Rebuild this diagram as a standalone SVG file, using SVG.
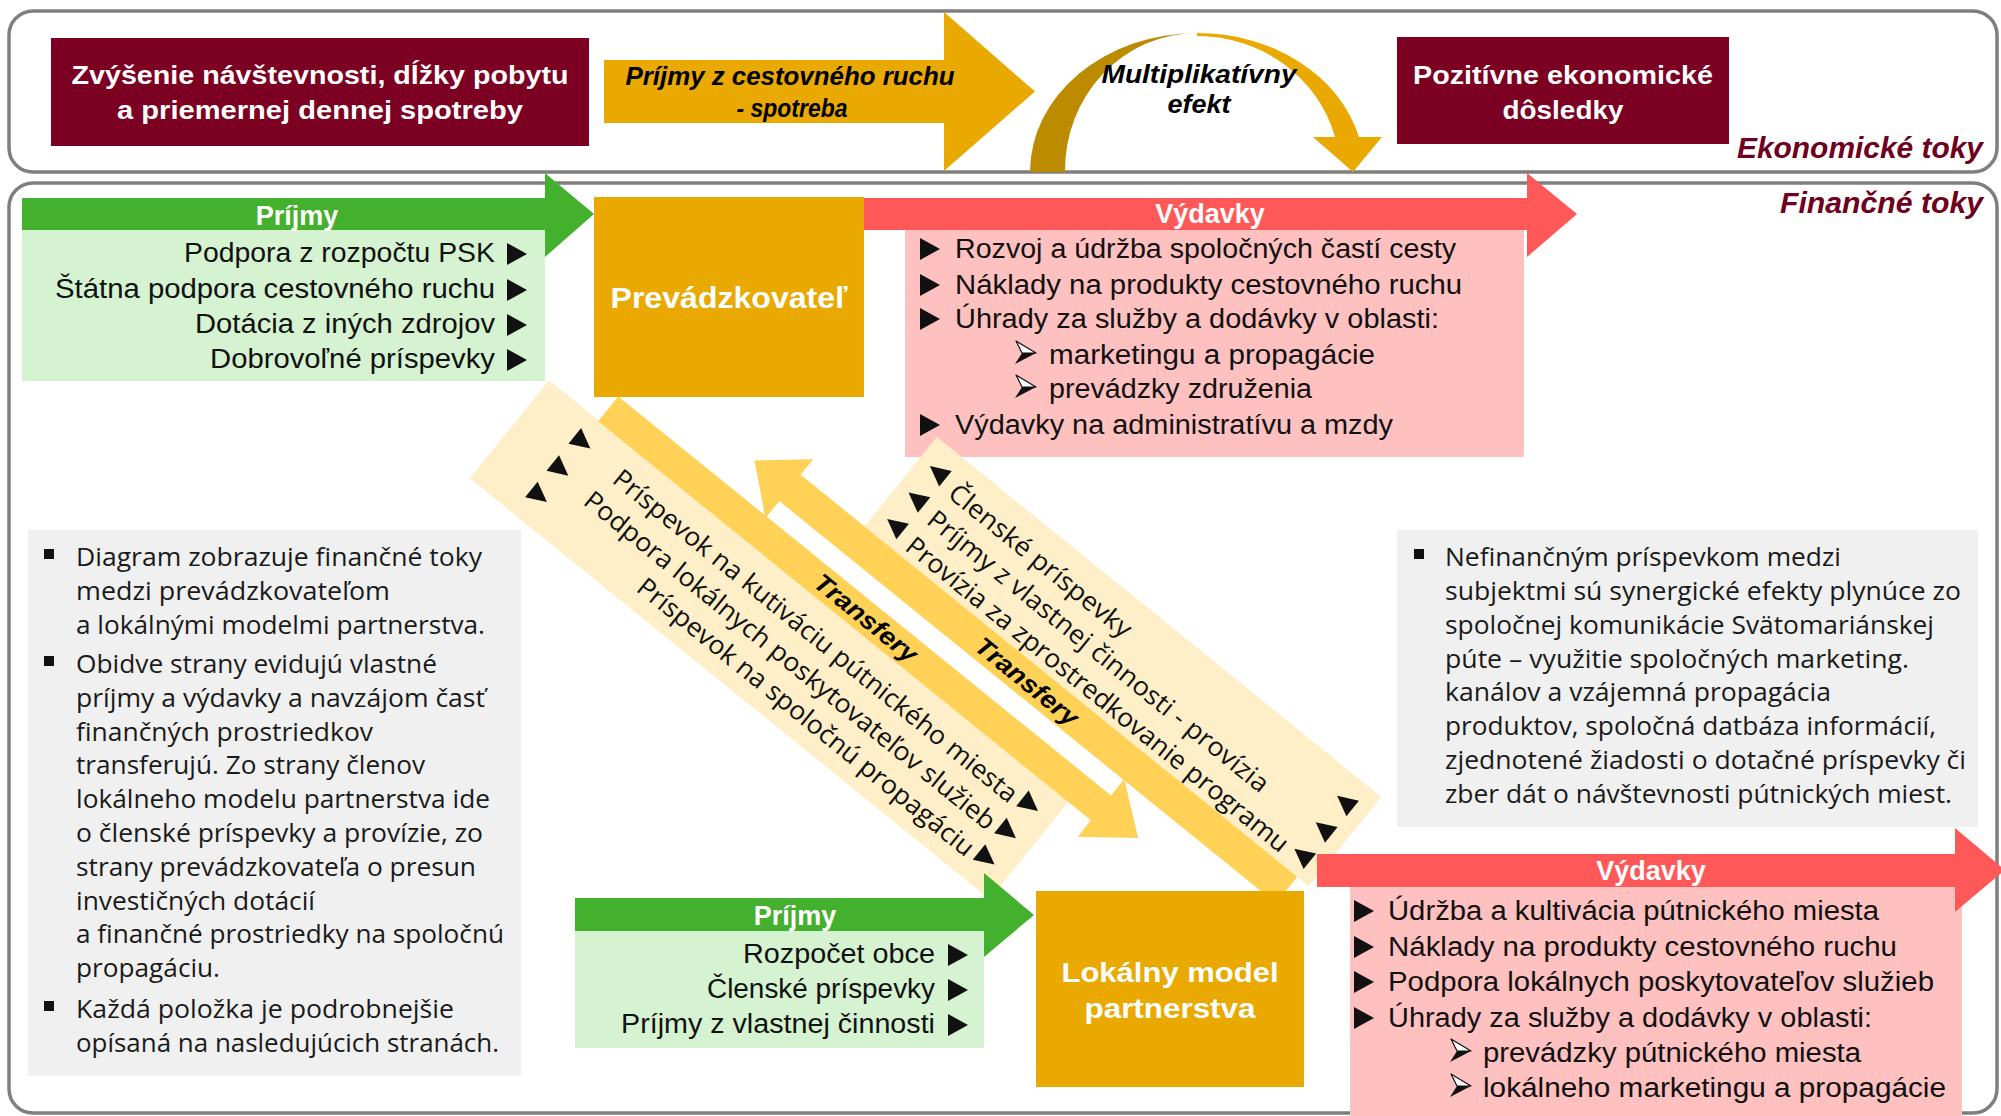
<svg xmlns="http://www.w3.org/2000/svg" xmlns:xlink="http://www.w3.org/1999/xlink" width="2001" height="1116" viewBox="0 0 2001 1116">
<style>
.panel{fill:#fff;stroke:#7f7f7f;stroke-width:3.5}
.maroon{fill:#7B0022}
.gold{fill:#E9A900}
.green{fill:#43B02E}
.lgreen{fill:#D5F3D1}
.red{fill:#FF5858}
.pink{fill:#FFC0C0}
.gray{fill:#F0F0F0}
.lband{fill:#FFEFC8}
.dband{fill:#FFD257}
.wb{font-family:'Liberation Sans',Arial,sans-serif;font-weight:bold;fill:#fff}
.bi{font-family:'Liberation Sans',Arial,sans-serif;font-weight:bold;font-style:italic;fill:#000}
.ttl{font-family:'Liberation Sans',Arial,sans-serif;font-weight:bold;font-style:italic;fill:#6E0020;font-size:30px}
.li{font-family:'Liberation Sans',Arial,sans-serif;font-size:27px;fill:#111}
.para{font-family:'Open Sans','Liberation Sans',sans-serif;font-size:25px;fill:#1a1a1a}
.rot{font-family:'Open Sans','Liberation Sans',sans-serif;font-size:26px;fill:#111}
</style>
<defs>
<polygon id="tri" points="-10,-11 10,0 -10,11" fill="#111"/>
<polygon id="triL" points="10,-10 -10,0 10,10" fill="#111"/>
<polygon id="triR" points="-10,-10 10,0 -10,10" fill="#111"/>
<g id="arr3d">
<polygon points="-10,-12 10,0 -4,0" fill="#fff" stroke="#111" stroke-width="1.2" stroke-linejoin="round"/>
<polygon points="-4,0 10,0 -11,11" fill="#111"/>
</g>
<rect id="bul" x="-5" y="-5" width="10" height="10" fill="#111"/>
</defs>

<!-- panels -->
<g id="panel-economic"><rect class="panel" x="9" y="11" width="1988" height="161" rx="24"/></g>
<g id="panel-financial"><rect class="panel" x="9" y="183" width="1988" height="930" rx="24"/></g>

<!-- top economic row -->
<g id="node-zvysenie">
<rect class="maroon" x="51" y="38" width="538" height="108"/>
<text class="wb" font-size="26" x="320" y="84" text-anchor="middle" textLength="497" lengthAdjust="spacingAndGlyphs">Zvýšenie návštevnosti, dĺžky pobytu</text>
<text class="wb" font-size="26" x="320" y="119" text-anchor="middle" textLength="406" lengthAdjust="spacingAndGlyphs">a priemernej dennej spotreby</text>
</g>
<g id="node-prijmy-cr">
<polygon class="gold" points="604,60 944,60 944,12 1035,91.5 944,171 944,123 604,123"/>
<text class="bi" font-size="25" x="790" y="85" text-anchor="middle" textLength="329" lengthAdjust="spacingAndGlyphs">Príjmy z cestovného ruchu</text>
<text class="bi" font-size="25" x="792" y="117" text-anchor="middle" textLength="111" lengthAdjust="spacingAndGlyphs">- spotreba</text>
</g>
<g id="node-multiplikativny">
<path fill="#BD8B00" d="M1030,172 A167,139 0 0 1 1197,33 A132,137 0 0 0 1065,172 Z"/>
<path class="gold" d="M1197,33 A167,139 0 0 1 1359,137 L1382,137 L1353,172 L1313,137 L1335,137 A143,136 0 0 0 1197,36 Z"/>
<text class="bi" font-size="25" x="1199" y="83" text-anchor="middle" textLength="195" lengthAdjust="spacingAndGlyphs">Multiplikatívny</text>
<text class="bi" font-size="25" x="1199" y="113" text-anchor="middle" textLength="63" lengthAdjust="spacingAndGlyphs">efekt</text>
</g>
<g id="node-pozitivne">
<rect class="maroon" x="1397" y="37" width="332" height="107"/>
<text class="wb" font-size="26" x="1563" y="84" text-anchor="middle" textLength="300" lengthAdjust="spacingAndGlyphs">Pozitívne ekonomické</text>
<text class="wb" font-size="26" x="1563" y="119" text-anchor="middle" textLength="121" lengthAdjust="spacingAndGlyphs">dôsledky</text>
</g>
<text class="ttl" x="1983" y="158" text-anchor="end" textLength="246" lengthAdjust="spacingAndGlyphs">Ekonomické toky</text>
<text class="ttl" x="1983" y="213" text-anchor="end" textLength="203" lengthAdjust="spacingAndGlyphs">Finančné toky</text>

<!-- gray notes -->
<g id="note-left">
<rect class="gray" x="28" y="530" width="493" height="546"/>
<use xlink:href="#bul" x="49" y="554"/>
<use xlink:href="#bul" x="49" y="661"/>
<use xlink:href="#bul" x="49" y="1006"/>
<text class="para" x="76" y="566" textLength="406" lengthAdjust="spacingAndGlyphs">Diagram zobrazuje finančné  toky</text>
<text class="para" x="76" y="600" textLength="314" lengthAdjust="spacingAndGlyphs">medzi prevádzkovateľom</text>
<text class="para" x="76" y="634" textLength="409" lengthAdjust="spacingAndGlyphs">a lokálnými modelmi partnerstva.</text>
<text class="para" x="76" y="673" textLength="361" lengthAdjust="spacingAndGlyphs">Obidve strany evidujú vlastné</text>
<text class="para" x="76" y="707" textLength="409" lengthAdjust="spacingAndGlyphs">príjmy a výdavky a navzájom časť</text>
<text class="para" x="76" y="741" textLength="297" lengthAdjust="spacingAndGlyphs">finančných prostriedkov</text>
<text class="para" x="76" y="774" textLength="349" lengthAdjust="spacingAndGlyphs">transferujú. Zo strany členov</text>
<text class="para" x="76" y="808" textLength="414" lengthAdjust="spacingAndGlyphs">lokálneho modelu partnerstva ide</text>
<text class="para" x="76" y="842" textLength="407" lengthAdjust="spacingAndGlyphs">o členské príspevky a provízie, zo</text>
<text class="para" x="76" y="876" textLength="400" lengthAdjust="spacingAndGlyphs">strany prevádzkovateľa o presun</text>
<text class="para" x="76" y="910" textLength="239" lengthAdjust="spacingAndGlyphs">investičných dotácií</text>
<text class="para" x="76" y="943" textLength="428" lengthAdjust="spacingAndGlyphs">a finančné prostriedky na spoločnú</text>
<text class="para" x="76" y="977" textLength="144" lengthAdjust="spacingAndGlyphs">propagáciu.</text>
<text class="para" x="76" y="1018" textLength="378" lengthAdjust="spacingAndGlyphs">Každá položka je podrobnejšie</text>
<text class="para" x="76" y="1052" textLength="423" lengthAdjust="spacingAndGlyphs">opísaná na nasledujúcich stranách.</text>
</g>
<g id="note-right">
<rect class="gray" x="1397" y="530" width="581" height="297"/>
<use xlink:href="#bul" x="1419" y="554"/>
<text class="para" x="1445" y="566" textLength="396" lengthAdjust="spacingAndGlyphs">Nefinančným príspevkom medzi</text>
<text class="para" x="1445" y="600" textLength="516" lengthAdjust="spacingAndGlyphs">subjektmi sú synergické efekty plynúce zo</text>
<text class="para" x="1445" y="634" textLength="489" lengthAdjust="spacingAndGlyphs">spoločnej komunikácie Svätomariánskej</text>
<text class="para" x="1445" y="668" textLength="464" lengthAdjust="spacingAndGlyphs">púte – využitie spoločných marketing.</text>
<text class="para" x="1445" y="701" textLength="386" lengthAdjust="spacingAndGlyphs">kanálov a vzájemná propagácia</text>
<text class="para" x="1445" y="735" textLength="491" lengthAdjust="spacingAndGlyphs">produktov, spoločná datbáza informácií,</text>
<text class="para" x="1445" y="769" textLength="521" lengthAdjust="spacingAndGlyphs">zjednotené žiadosti o dotačné príspevky či</text>
<text class="para" x="1445" y="803" textLength="507" lengthAdjust="spacingAndGlyphs">zber dát o návštevnosti pútnických miest.</text>
</g>

<!-- top financial: expenses of operator -->
<g id="node-vydavky-top">
<rect class="pink" x="905" y="230" width="619" height="227"/>
<polygon class="red" points="864,198 1527,198 1527,173 1577,214 1527,257 1527,230 864,230"/>
<text class="wb" font-size="27" x="1210" y="223" text-anchor="middle">Výdavky</text>
<use xlink:href="#tri" x="930" y="249"/>
<use xlink:href="#tri" x="930" y="285"/>
<use xlink:href="#tri" x="930" y="319"/>
<use xlink:href="#tri" x="930" y="425"/>
<use xlink:href="#arr3d" x="1026" y="353"/>
<use xlink:href="#arr3d" x="1026" y="387"/>
<text class="li" x="955" y="258" textLength="501" lengthAdjust="spacingAndGlyphs">Rozvoj a údržba spoločných častí cesty</text>
<text class="li" x="955" y="294" textLength="507" lengthAdjust="spacingAndGlyphs">Náklady na produkty cestovného ruchu</text>
<text class="li" x="955" y="328" textLength="484" lengthAdjust="spacingAndGlyphs">Úhrady za služby a dodávky v oblasti:</text>
<text class="li" x="1049" y="364" textLength="326" lengthAdjust="spacingAndGlyphs">marketingu a propagácie</text>
<text class="li" x="1049" y="398" textLength="263" lengthAdjust="spacingAndGlyphs">prevádzky združenia</text>
<text class="li" x="955" y="434" textLength="438" lengthAdjust="spacingAndGlyphs">Výdavky na administratívu a mzdy</text>
</g>

<!-- top financial: incomes of operator -->
<g id="node-prijmy-top">
<rect class="lgreen" x="22" y="230" width="523" height="151"/>
<polygon class="green" points="22,198 545,198 545,173 594,214 545,257 545,230 22,230"/>
<text class="wb" font-size="27" x="297" y="225" text-anchor="middle">Príjmy</text>
<text class="li" x="495" y="262" text-anchor="end" textLength="311" lengthAdjust="spacingAndGlyphs">Podpora z rozpočtu PSK</text>
<text class="li" x="495" y="298" text-anchor="end" textLength="440" lengthAdjust="spacingAndGlyphs">Štátna podpora cestovného ruchu</text>
<text class="li" x="495" y="333" text-anchor="end" textLength="300" lengthAdjust="spacingAndGlyphs">Dotácia z iných zdrojov</text>
<text class="li" x="495" y="368" text-anchor="end" textLength="285" lengthAdjust="spacingAndGlyphs">Dobrovoľné príspevky</text>
<use xlink:href="#tri" x="517" y="254"/>
<use xlink:href="#tri" x="517" y="290"/>
<use xlink:href="#tri" x="517" y="325"/>
<use xlink:href="#tri" x="517" y="360"/>
</g>

<!-- transfers (connectors) -->
<g id="connectors" transform="rotate(39)">
<g id="transfer-down">
<rect class="lband" x="666" y="-50" width="669" height="126"/>
<polygon class="dband" points="730,-81 1364,-81 1364,-102 1412,-65 1364,-28 1364,-49 730,-49"/>
<text class="bi" font-size="25" x="1062" y="-56" text-anchor="middle" textLength="125" lengthAdjust="spacingAndGlyphs">Transfery</text>
<use xlink:href="#triR" x="731" y="-23"/>
<use xlink:href="#triR" x="731" y="12"/>
<use xlink:href="#triR" x="731" y="46"/>
<use xlink:href="#triR" x="1307" y="-23"/>
<use xlink:href="#triR" x="1307" y="12"/>
<use xlink:href="#triR" x="1307" y="46"/>
<text class="rot" x="1290" y="-10" text-anchor="end" textLength="512" lengthAdjust="spacingAndGlyphs">Príspevok na kutiváciu pútnického miesta</text>
<text class="rot" x="1290" y="25" text-anchor="end" textLength="521" lengthAdjust="spacingAndGlyphs">Podpora lokálnych poskytovateľov služieb</text>
<text class="rot" x="1290" y="59" text-anchor="end" textLength="425" lengthAdjust="spacingAndGlyphs">Príspevok na spoločnú propagáciu</text>
</g>
<g id="transfer-up">
<rect class="lband" x="1003" y="-250" width="572" height="115"/>
<polygon class="dband" points="921,-135 921,-155 876,-117 921,-79 921,-101 1560,-101 1560,-135"/>
<text class="bi" font-size="25" x="1227" y="-108" text-anchor="middle" textLength="125" lengthAdjust="spacingAndGlyphs">Transfery</text>
<use xlink:href="#triL" x="1026" y="-223"/>
<use xlink:href="#triL" x="1026" y="-189"/>
<use xlink:href="#triL" x="1026" y="-155"/>
<use xlink:href="#triL" x="1550" y="-223"/>
<use xlink:href="#triL" x="1550" y="-189"/>
<use xlink:href="#triL" x="1550" y="-155"/>
<text class="rot" x="1048" y="-210" textLength="227" lengthAdjust="spacingAndGlyphs">Členské príspevky</text>
<text class="rot" x="1048" y="-176" textLength="431" lengthAdjust="spacingAndGlyphs">Príjmy z vlastnej činnosti - provízia</text>
<text class="rot" x="1048" y="-142" textLength="484" lengthAdjust="spacingAndGlyphs">Provízia za zprostredkovanie programu</text>
</g>
</g>

<g id="node-prevadzkovatel">
<rect class="gold" x="594" y="197" width="270" height="200"/>
<text class="wb" font-size="29" x="729" y="308" text-anchor="middle" textLength="237" lengthAdjust="spacingAndGlyphs">Prevádzkovateľ</text>
</g>

<!-- bottom: local partnership -->
<g id="node-prijmy-bottom">
<rect class="lgreen" x="575" y="931" width="409" height="117"/>
<polygon class="green" points="575,898 984,898 984,873 1034,915 984,957 984,931 575,931"/>
<text class="wb" font-size="27" x="795" y="925" text-anchor="middle">Príjmy</text>
<text class="li" x="935" y="963" text-anchor="end" textLength="192" lengthAdjust="spacingAndGlyphs">Rozpočet obce</text>
<text class="li" x="935" y="998" text-anchor="end" textLength="228" lengthAdjust="spacingAndGlyphs">Členské príspevky</text>
<text class="li" x="935" y="1033" text-anchor="end" textLength="314" lengthAdjust="spacingAndGlyphs">Príjmy z vlastnej činnosti</text>
<use xlink:href="#tri" x="958" y="955"/>
<use xlink:href="#tri" x="958" y="990"/>
<use xlink:href="#tri" x="958" y="1025"/>
</g>

<g id="node-vydavky-bottom">
<rect class="pink" x="1350" y="887" width="612" height="229"/>
<polygon class="red" points="1317,854 1955,854 1955,828 2005,870 1955,912 1955,887 1317,887"/>
<text class="wb" font-size="27" x="1651" y="880" text-anchor="middle">Výdavky</text>
<use xlink:href="#tri" x="1364" y="911"/>
<use xlink:href="#tri" x="1364" y="947"/>
<use xlink:href="#tri" x="1364" y="982"/>
<use xlink:href="#tri" x="1364" y="1018"/>
<use xlink:href="#arr3d" x="1461" y="1051"/>
<use xlink:href="#arr3d" x="1461" y="1086"/>
<text class="li" x="1388" y="920" textLength="491" lengthAdjust="spacingAndGlyphs">Údržba a kultivácia pútnického miesta</text>
<text class="li" x="1388" y="956" textLength="509" lengthAdjust="spacingAndGlyphs">Náklady na produkty cestovného ruchu</text>
<text class="li" x="1388" y="991" textLength="546" lengthAdjust="spacingAndGlyphs">Podpora lokálnych poskytovateľov služieb</text>
<text class="li" x="1388" y="1027" textLength="484" lengthAdjust="spacingAndGlyphs">Úhrady za služby a dodávky v oblasti:</text>
<text class="li" x="1483" y="1062" textLength="378" lengthAdjust="spacingAndGlyphs">prevádzky pútnického miesta</text>
<text class="li" x="1483" y="1097" textLength="463" lengthAdjust="spacingAndGlyphs">lokálneho marketingu a propagácie</text>
</g>

<g id="node-lokalny-model">
<rect class="gold" x="1036" y="891" width="268" height="196"/>
<text class="wb" font-size="28" x="1170" y="982" text-anchor="middle" textLength="217" lengthAdjust="spacingAndGlyphs">Lokálny model</text>
<text class="wb" font-size="28" x="1170" y="1018" text-anchor="middle" textLength="171" lengthAdjust="spacingAndGlyphs">partnerstva</text>
</g>
</svg>
